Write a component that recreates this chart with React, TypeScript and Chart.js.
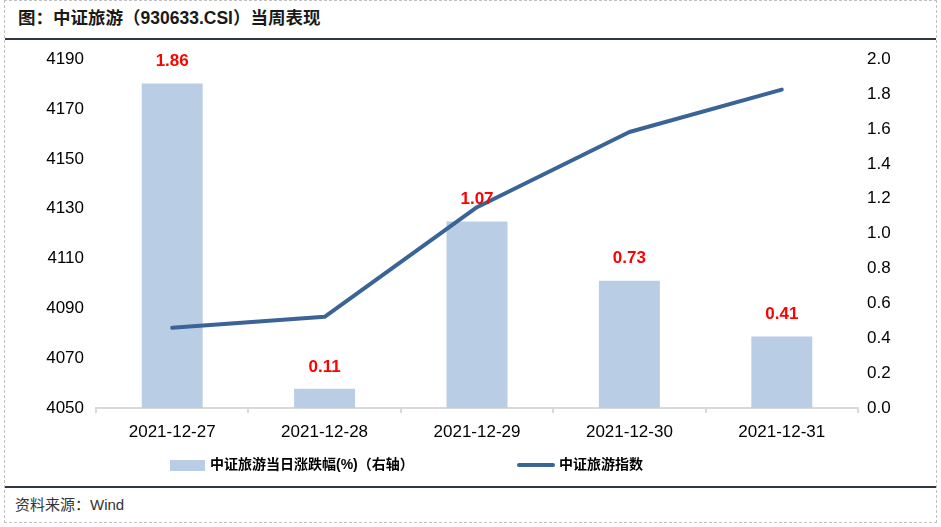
import React, { useEffect, useRef } from "react";
import { Chart, registerables } from "chart.js";

Chart.register(...registerables);

const titleText = "图：中证旅游（930633.CSI）当周表现";
const sourceText = "资料来源：Wind";
const categories = ["2021-12-27", "2021-12-28", "2021-12-29", "2021-12-30", "2021-12-31"];
const barLabel = "中证旅游当日涨跌幅(%)（右轴）";
const lineLabel = "中证旅游指数";
const dailyChange = [1.86, 0.11, 1.07, 0.73, 0.41];
const indexValues = [4082.2, 4086.6, 4130.6, 4160.8, 4177.8];
const leftTicks = [4050, 4070, 4090, 4110, 4130, 4150, 4170, 4190];
const rightTicks = [0, 0.2, 0.4, 0.6, 0.8, 1.0, 1.2, 1.4, 1.6, 1.8, 2.0];

const FONT = '"Liberation Sans", Arial, "Noto Sans CJK SC", sans-serif';
const BAR_COLOR = "#b9cde5";
const LINE_COLOR = "#3a6496";

const labelPlugin = {
  id: "barValueLabels",
  afterDatasetsDraw(chart: any) {
    const meta = chart.getDatasetMeta(0);
    const ctx = chart.ctx;
    ctx.save();
    ctx.fillStyle = "#ff0000";
    ctx.font = `bold 17px ${FONT}`;
    ctx.textAlign = "center";
    ctx.textBaseline = "middle";
    meta.data.forEach((el: any, i: number) => {
      ctx.fillText(dailyChange[i].toFixed(2), el.x, el.y - 22);
    });
    ctx.restore();
  },
};

export default function App() {
  const ref = useRef<HTMLCanvasElement | null>(null);

  useEffect(() => {
    if (!ref.current) return;
    const chart = new Chart(ref.current, {
      type: "bar",
      data: {
        labels: categories,
        datasets: [
          {
            type: "bar",
            label: barLabel,
            data: dailyChange,
            backgroundColor: BAR_COLOR,
            yAxisID: "y1",
            barPercentage: 0.4,
            categoryPercentage: 1,
            order: 2,
          },
          {
            type: "line",
            label: lineLabel,
            data: indexValues,
            borderColor: LINE_COLOR,
            backgroundColor: LINE_COLOR,
            borderWidth: 4,
            pointRadius: 0,
            tension: 0,
            borderCapStyle: "round",
            borderJoinStyle: "round",
            yAxisID: "y",
            order: 1,
          } as any,
        ],
      },
      options: {
        responsive: false,
        animation: false,
        layout: { padding: { top: 16, left: 0, right: 0, bottom: 0 } },
        plugins: {
          legend: { display: false },
          tooltip: { enabled: false },
        },
        scales: {
          x: {
            offset: true,
            grid: {
              offset: true,
              drawOnChartArea: false,
              drawTicks: true,
              tickLength: 5,
              color: "#d9d9d9",
              lineWidth: 2,
            },
            border: { display: true, color: "#d9d9d9", width: 2 },
            ticks: {
              color: "#000000",
              font: { family: FONT, size: 17 },
              padding: 9,
              maxRotation: 0,
            },
            afterFit(scale: any) {
              scale.height = 72;
            },
          },
          y: {
            position: "left",
            min: 4050,
            max: 4190,
            grid: { display: false, drawTicks: false },
            border: { display: false },
            ticks: {
              color: "#000000",
              font: { family: FONT, size: 17 },
              padding: 12,
              callback: (v: any) => String(Math.round(Number(v))),
            },
            afterBuildTicks(scale: any) {
              scale.ticks = leftTicks.map((v) => ({ value: v }));
            },
            afterFit(scale: any) {
              scale.width = 96;
            },
          },
          y1: {
            position: "right",
            min: 0,
            max: 2,
            grid: { display: false, drawTicks: false },
            border: { display: false },
            ticks: {
              color: "#000000",
              font: { family: FONT, size: 17 },
              padding: 9,
              callback: (v: any) => Number(v).toFixed(1),
            },
            afterBuildTicks(scale: any) {
              scale.ticks = rightTicks.map((v) => ({ value: v }));
            },
            afterFit(scale: any) {
              scale.width = 83;
            },
          },
        },
      },
      plugins: [labelPlugin],
    });
    return () => chart.destroy();
  }, []);

  const textBase: React.CSSProperties = {
    position: "absolute",
    fontFamily: FONT,
    color: "#000",
    whiteSpace: "nowrap",
    lineHeight: "1",
  };

  return (
    <div
      style={{
        position: "fixed",
        left: 0,
        top: 0,
        width: 941,
        height: 527,
        background: "#fff",
        overflow: "hidden",
      }}
    >
      <div
        style={{
          position: "absolute",
          left: 4,
          top: 0,
          width: 933,
          height: 523,
          border: "1px dashed #c0c0c0",
          boxSizing: "border-box",
        }}
      />
      <div style={{ ...textBase, left: 18, top: 10, fontSize: 17.5, fontWeight: "bold", color: "#1a1a1a" }}>
        {titleText}
      </div>
      <div style={{ position: "absolute", left: 5, top: 38, width: 931, height: 2, background: "#2e3742" }} />
      <canvas
        ref={ref}
        width={941}
        height={443}
        style={{ position: "absolute", left: 0, top: 37, width: 941, height: 443 }}
      />
      <div style={{ position: "absolute", left: 170, top: 460, width: 35, height: 11, background: BAR_COLOR }} />
      <div style={{ ...textBase, left: 210, top: 457, fontSize: 14, fontWeight: "bold" }}>{barLabel}</div>
      <div
        style={{
          position: "absolute",
          left: 517,
          top: 463,
          width: 38,
          height: 4,
          borderRadius: 2,
          background: LINE_COLOR,
        }}
      />
      <div style={{ ...textBase, left: 559, top: 457, fontSize: 14, fontWeight: "bold" }}>{lineLabel}</div>
      <div style={{ position: "absolute", left: 5, top: 486, width: 931, height: 2, background: "#2e3742" }} />
      <div style={{ ...textBase, left: 15, top: 497, fontSize: 15, color: "#333" }}>{sourceText}</div>
    </div>
  );
}
